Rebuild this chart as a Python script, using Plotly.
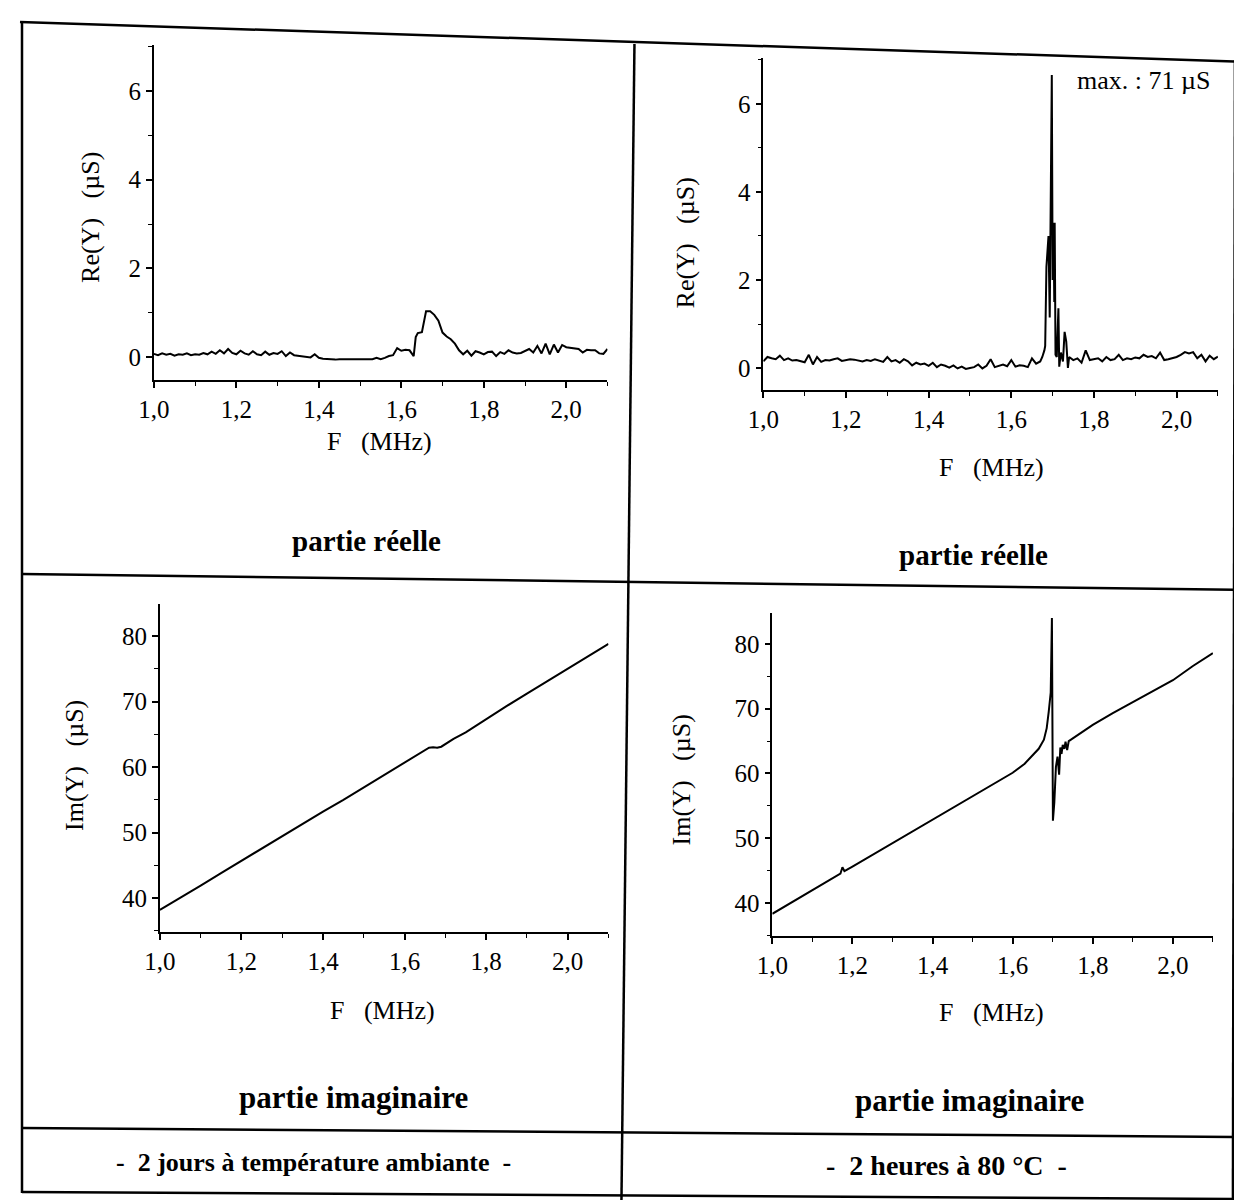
import plotly.graph_objects as go

# ---------------- data ----------------
F_RE1 = [1.00,1.01,1.02,1.03,1.04,1.05,1.06,1.07,1.08,1.09,1.10,1.11,1.12,1.13,1.14,1.15,1.16,1.17,1.18,1.19,
         1.20,1.21,1.22,1.23,1.24,1.25,1.26,1.27,1.28,1.29,1.30,1.31,1.32,1.33,1.34,1.35,1.36,1.37,1.38,1.39,
         1.40,1.41,1.42,1.43,1.44,1.45,1.46,1.47,1.48,1.49,1.50,1.51,1.52,1.53,1.54,1.55,1.56,1.57,1.58,1.59,
         1.60,1.61,1.62,1.63,1.635,1.64,1.65,1.66,1.67,1.68,1.69,1.70,1.71,1.72,1.73,1.74,1.75,1.76,1.77,1.78,
         1.79,1.80,1.81,1.82,1.83,1.84,1.85,1.86,1.87,1.88,1.89,1.90,1.91,1.92,1.93,1.94,1.95,1.96,1.97,1.98,
         1.99,2.00,2.01,2.02,2.03,2.04,2.05,2.06,2.07,2.08,2.09,2.10]
RE1 = [0.07,0.04,0.08,0.05,0.07,0.03,0.06,0.05,0.08,0.04,0.06,0.05,0.09,0.06,0.12,0.07,0.15,0.08,0.18,0.09,
       0.06,0.14,0.08,0.05,0.13,0.06,0.04,0.12,0.05,0.09,0.07,0.13,0.02,0.10,0.04,0.03,0.01,0.00,-0.01,0.06,
       -0.02,-0.04,-0.05,-0.06,-0.06,-0.05,-0.05,-0.05,-0.05,-0.04,-0.05,-0.05,-0.04,-0.05,-0.02,-0.05,-0.02,0.02,0.04,0.20,
       0.14,0.16,0.15,0.02,0.45,0.54,0.56,1.03,1.03,0.95,0.82,0.55,0.46,0.40,0.30,0.15,0.06,0.14,0.03,0.13,
       0.10,0.06,0.11,0.12,0.02,0.11,0.07,0.15,0.10,0.08,0.09,0.14,0.18,0.10,0.25,0.08,0.30,0.06,0.28,0.10,
       0.27,0.22,0.21,0.20,0.18,0.10,0.16,0.15,0.15,0.08,0.07,0.18]

F_RE2 = [1.00,1.01,1.02,1.03,1.04,1.05,1.06,1.07,1.08,1.09,1.10,1.11,1.12,1.13,1.14,1.15,1.16,1.17,1.18,1.19,
         1.20,1.21,1.22,1.23,1.24,1.25,1.26,1.27,1.28,1.29,1.30,1.31,1.32,1.33,1.34,1.35,1.36,1.37,1.38,1.39,
         1.40,1.41,1.42,1.43,1.44,1.45,1.46,1.47,1.48,1.49,1.50,1.51,1.52,1.53,1.54,1.55,1.56,1.57,1.58,1.59,
         1.60,1.61,1.62,1.63,1.64,1.65,1.66,1.67,1.675,1.680,1.682,1.685,1.690,1.693,1.696,1.698,1.700,1.702,1.704,1.705,
         1.707,1.710,1.714,1.716,1.720,1.725,1.729,1.733,1.737,1.74,1.75,1.76,1.77,1.78,1.79,1.80,1.81,1.82,1.83,1.84,
         1.85,1.86,1.87,1.88,1.89,1.90,1.91,1.92,1.93,1.94,1.95,1.96,1.97,1.98,1.99,2.00,2.01,2.02,2.03,2.04,
         2.05,2.06,2.07,2.08,2.09,2.10]
RE2 = [0.15,0.25,0.22,0.20,0.28,0.18,0.22,0.17,0.18,0.15,0.13,0.30,0.08,0.25,0.14,0.18,0.17,0.20,0.22,0.16,
       0.18,0.20,0.19,0.17,0.15,0.18,0.16,0.20,0.17,0.14,0.25,0.15,0.18,0.12,0.20,0.15,0.06,0.12,0.08,0.10,
       0.05,0.12,0.02,0.08,0.05,0.01,0.06,-0.01,0.03,-0.02,0.00,0.02,0.08,-0.01,0.05,0.20,0.02,0.05,0.08,0.04,
       0.18,0.03,0.06,0.05,0.02,0.22,0.10,0.15,0.25,0.40,0.50,2.30,3.00,1.15,5.80,6.66,2.00,3.30,1.50,3.30,
       0.30,0.25,1.36,0.03,0.35,0.15,0.82,0.60,0.00,0.25,0.18,0.22,0.12,0.40,0.18,0.20,0.22,0.15,0.25,0.18,
       0.20,0.30,0.18,0.22,0.20,0.24,0.22,0.30,0.25,0.27,0.22,0.35,0.18,0.20,0.22,0.25,0.30,0.36,0.33,0.36,
       0.22,0.30,0.15,0.28,0.20,0.26]

F_IM1 = [1.00,1.05,1.10,1.15,1.20,1.25,1.30,1.35,1.40,1.45,1.50,1.55,1.60,1.63,1.65,1.66,1.67,1.68,1.69,1.70,
         1.72,1.75,1.78,1.80,1.85,1.90,1.95,2.00,2.05,2.10]
IM1 = [38.2,40.0,41.9,43.8,45.7,47.5,49.4,51.3,53.2,55.0,56.9,58.8,60.7,61.9,62.6,62.95,63.0,62.95,63.1,63.5,
       64.3,65.3,66.5,67.4,69.3,71.2,73.1,75.0,76.9,78.8]

F_IM2 = [1.00,1.05,1.10,1.15,1.17,1.175,1.18,1.20,1.25,1.30,1.35,1.40,1.45,1.50,1.55,1.60,1.63,1.65,1.665,1.678,
         1.685,1.690,1.695,1.698,1.7005,1.704,1.708,1.712,1.716,1.719,1.722,1.725,1.729,1.732,1.736,1.740,1.750,1.76,1.78,1.80,
         1.85,1.90,1.95,2.00,2.05,2.10]
IM2 = [38.3,40.1,41.9,43.7,44.5,45.5,44.9,45.6,47.4,49.2,51.0,52.8,54.6,56.4,58.2,60.1,61.5,62.8,63.8,65.2,
       67.0,69.5,72.5,84.0,52.7,55.5,61.0,62.6,59.8,64.0,63.0,64.4,63.8,64.9,63.6,65.0,65.4,65.8,66.6,67.5,
       69.3,71.0,72.8,74.4,76.6,78.6]

X_TICKS = [1.0, 1.2, 1.4, 1.6, 1.8, 2.0]
X_TICKTEXT = ["1,0", "1,2", "1,4", "1,6", "1,8", "2,0"]
RE_TICKS = [0, 2, 4, 6]
IM_TICKS = [40, 50, 60, 70, 80]

W, H = 1242, 1200
# map target pixel positions (in the 1242x1200 picture) to paper coordinates
def px(x):
    return ((x - 22) / 0.988) / W
def py(y):
    return 1 - (y - 8) / H

FONT = "Liberation Serif"
LINE = dict(color="black", width=2)

fig = go.Figure()
fig.add_trace(go.Scatter(x=F_RE1, y=RE1, mode="lines", line=LINE, xaxis="x", yaxis="y"))
fig.add_trace(go.Scatter(x=F_RE2, y=RE2, mode="lines", line=LINE, xaxis="x2", yaxis="y2"))
fig.add_trace(go.Scatter(x=F_IM1, y=IM1, mode="lines", line=LINE, xaxis="x3", yaxis="y3"))
fig.add_trace(go.Scatter(x=F_IM2, y=IM2, mode="lines", line=LINE, xaxis="x4", yaxis="y4"))

def xaxis(dom, anchor):
    return dict(domain=dom, anchor=anchor, range=[1.0, 2.1], tickvals=X_TICKS, ticktext=X_TICKTEXT,
                showline=True, linecolor="black", linewidth=1.6, ticks="outside", ticklen=6, tickwidth=1.5,
                tickcolor="black", showgrid=False, zeroline=False, ticklabelstandoff=0,
                tickfont=dict(family=FONT, size=25, color="black"),
                minor=dict(tick0=1.0, dtick=0.1, ticks="outside", ticklen=4, tickwidth=1.3, tickcolor="black"))

def yaxis(dom, anchor, rng, tv, mdt, t0):
    return dict(domain=dom, anchor=anchor, range=rng, tickvals=tv, ticktext=[str(v) for v in tv],
                showline=True, linecolor="black", linewidth=1.6, ticks="outside", ticklen=6, tickwidth=1.5,
                tickcolor="black", showgrid=False, zeroline=False,
                tickfont=dict(family=FONT, size=25, color="black"),
                minor=dict(tick0=t0, dtick=mdt, ticks="outside", ticklen=4, tickwidth=1.3, tickcolor="black"))

layout = dict(
    width=W, height=H, margin=dict(l=0, r=0, t=0, b=0),
    paper_bgcolor="white", plot_bgcolor="white", showlegend=False,
    xaxis=xaxis([px(152), px(606)], "y"),
    yaxis=yaxis([py(380), py(45)], "x", [-0.52, 7.04], RE_TICKS, 1, 0),
    xaxis2=xaxis([px(762), px(1217)], "y2"),
    yaxis2=yaxis([py(390), py(58)], "x2", [-0.5, 7.045], RE_TICKS, 1, 0),
    xaxis3=xaxis([px(158), px(607)], "y3"),
    yaxis3=yaxis([py(932), py(604)], "x3", [34.81, 84.89], IM_TICKS, 5, 40),
    xaxis4=xaxis([px(771), px(1212)], "y4"),
    yaxis4=yaxis([py(936), py(613)], "x4", [34.87, 84.79], IM_TICKS, 5, 40),
)
fig.update_layout(**layout)

# frame lines (scanned table)
frame = [
    ((18, 22), (1250, 62)),
    ((20, 22), (20, 1193)),
    ((1234, 60), (1232, 1200)),
    ((633, 44), (620, 1200)),
    ((20, 574), (1250, 590)),
    ((20, 1128), (1250, 1137)),
    ((20, 1192), (1250, 1199)),
]
for (x0, y0), (x1, y1) in frame:
    fig.add_shape(type="line", xref="paper", yref="paper", x0=px(x0), y0=py(y0), x1=px(x1), y1=py(y1),
                  line=dict(color="black", width=2.5))

def text(x, y, s, size=26, bold=False, angle=0):
    fig.add_annotation(xref="paper", yref="paper", x=px(x), y=py(y), text=("<b>%s</b>" % s) if bold else s,
                       showarrow=False, textangle=angle, xanchor="center", yanchor="middle",
                       font=dict(family=FONT, size=size, color="black"))

SP = "&nbsp;&nbsp;&nbsp;"
# axis titles
text(88, 217, "Re(Y)" + SP + "(µS)", angle=-90)
text(685, 243, "Re(Y)" + SP + "(µS)", angle=-90)
text(72, 765, "Im(Y)" + SP + "(µS)", angle=-90)
text(680, 780, "Im(Y)" + SP + "(µS)", angle=-90)
text(378, 441, "F" + SP + "(MHz)")
text(990, 467, "F" + SP + "(MHz)")
text(381, 1010, "F" + SP + "(MHz)")
text(990, 1012, "F" + SP + "(MHz)")

# annotation
text(1143, 80, "max. : 71 µS", size=26)

# captions
text(365, 541, "partie réelle", size=29, bold=True)
text(972, 555, "partie réelle", size=29, bold=True)
text(352, 1097, "partie imaginaire", size=31, bold=True)
text(968, 1100, "partie imaginaire", size=31, bold=True)
text(312, 1162, "-&nbsp;&nbsp;2 jours à température ambiante&nbsp;&nbsp;-", size=26, bold=True)
text(945, 1165, "-&nbsp;&nbsp;2 heures à 80 °C&nbsp;&nbsp;-", size=28, bold=True)

fig.write_html("out.html")
